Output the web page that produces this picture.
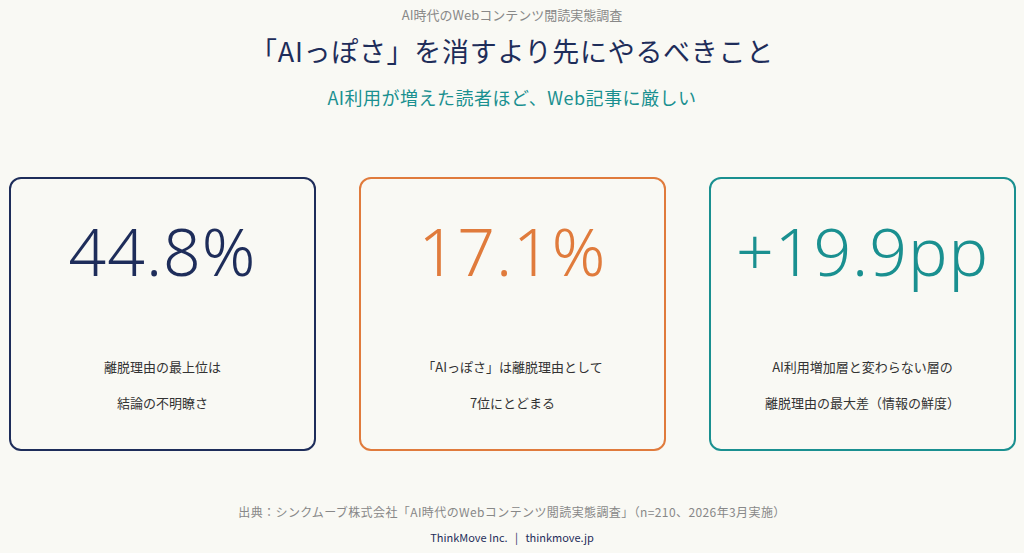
<!DOCTYPE html>
<html><head><meta charset="utf-8">
<script src="https://cdn.jsdelivr.net/npm/chart.js@4"></script>
<style>
body{margin:0;width:1024px;height:553px;background:#f9f9f4;font-family:"Noto Sans CJK JP","Noto Sans",sans-serif;position:relative;overflow:hidden}
.t{position:absolute;left:0;width:1024px;text-align:center;white-space:nowrap}
.card{position:absolute;top:177px;width:307px;height:274px;border:2px solid;border-radius:12px;box-sizing:border-box}
.big{position:absolute;top:36px;width:100%;text-align:center;font-family:"Noto Sans",sans-serif;font-size:66px;font-weight:300;line-height:70px;letter-spacing:1px}
.desc{position:absolute;top:170px;width:100%;text-align:center;font-size:13px;line-height:36px;color:#333}
</style></head><body>
<div class="t" style="top:5px;font-size:13px;color:#888">AI時代のWebコンテンツ閲読実態調査</div>
<div class="t" style="top:31px;font-size:27px;letter-spacing:0.7px;color:#1e2d5a">「AIっぽさ」を消すより先にやるべきこと</div>
<div class="t" style="top:84px;font-size:18px;letter-spacing:0.5px;color:#1a9090">AI利用が増えた読者ほど、Web記事に厳しい</div>
<div id="cards"></div>
<div class="t" style="top:503px;font-size:12px;letter-spacing:0.4px;color:#888">出典：シンクムーブ株式会社「AI時代のWebコンテンツ閲読実態調査」（n=210、2026年3月実施）</div>
<div class="t" style="top:529px;font-size:11px;color:#1e2d5a">ThinkMove Inc. &nbsp; | &nbsp; thinkmove.jp</div>
<script>
const values=["44.8%","17.1%","+19.9pp"];
const descriptions=[["離脱理由の最上位は","結論の不明瞭さ"],["「AIっぽさ」は離脱理由として","7位にとどまる"],["AI利用増加層と変わらない層の","離脱理由の最大差（情報の鮮度）"]];
const colors=["#1e2d5a","#e07b3c","#1a9090"];
const lefts=[9,359,709];
const c=document.getElementById('cards');
values.forEach((v,i)=>{
  const d=document.createElement('div');d.className='card';
  d.style.left=lefts[i]+'px';d.style.borderColor=colors[i];
  d.innerHTML=`<div class="big" style="color:${colors[i]}">${v}</div><div class="desc">${descriptions[i].join('<br>')}</div>`;
  c.appendChild(d);
});
</script>
</body></html>
